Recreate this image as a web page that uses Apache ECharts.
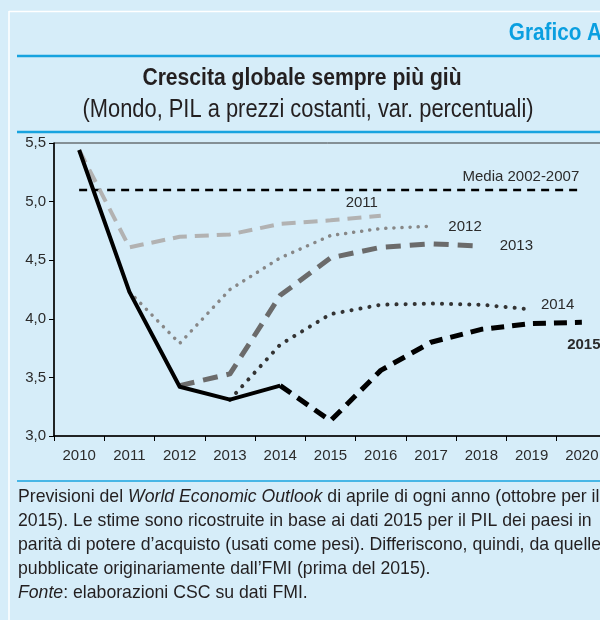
<!DOCTYPE html>
<html>
<head>
<meta charset="utf-8">
<script src="https://cdn.jsdelivr.net/npm/echarts@6/dist/echarts.min.js"></script>
<style>
  html, body { margin: 0; padding: 0; background: #d6edf9; }
  #main { width: 600px; height: 620px; }
</style>
</head>
<body>
<div id="main"></div>
<script>
// dati
const years = ['2010', '2011', '2012', '2013', '2014', '2015', '2016', '2017', '2018', '2019', '2020']
const yTicks = [3.0, 3.5, 4.0, 4.5, 5.0, 5.5]
const actual = [5.44, 4.23, 3.42, 3.31, 3.43]
const media = [5.1, 5.1, 5.1, 5.1, 5.1, 5.1, 5.1, 5.1, 5.1, 5.1, 5.1]
const weo2011 = [5.44, 4.61, 4.70, 4.72, 4.81, 4.84, 4.88]
const weo2012 = [null, 4.23, 3.79, 4.25, 4.52, 4.71, 4.77, 4.79]
const weo2013 = [null, null, 3.43, 3.53, 4.20, 4.52, 4.61, 4.64, 4.62]
const weo2014 = [null, null, null, 3.31, 3.78, 4.04, 4.12, 4.13, 4.12, 4.08]
const weo2015 = [null, null, null, null, 3.43, 3.13, 3.56, 3.80, 3.91, 3.96, 3.97]

const footnote = [
  'Previsioni del {i|World Economic Outlook} di aprile di ogni anno (ottobre per il',
  '2015). Le stime sono ricostruite in base ai dati 2015 per il PIL dei paesi in',
  'parità di potere d\u2019acquisto (usati come pesi). Differiscono, quindi, da quelle',
  'pubblicate originariamente dall\u2019FMI (prima del 2015).',
  '{i|Fonte}: elaborazioni CSC su dati FMI.'
]

// niente font condensati: Liberation Sans schiacciato in orizzontale
const sans = '"Liberation Sans", Arial, sans-serif'

const chart = echarts.init(document.getElementById('main'))

const line = (name, data, color, width, type, cap, label, offset, bold) => ({
  name: name,
  type: 'line',
  data: data,
  symbol: 'none',
  connectNulls: false,
  z: 3,
  lineStyle: { color: color, width: width, type: type, cap: cap || 'butt', join: 'round' },
  endLabel: label ? {
    show: true,
    formatter: label,
    distance: 0,
    align: 'center',
    verticalAlign: 'middle',
    offset: offset,
    color: '#2b2b2b',
    fontSize: 15,
    fontWeight: bold ? 'bold' : 'normal',
    fontFamily: sans,
  } : { show: false },
})

const graphics = [
  // cornice bianca
  { type: 'line', shape: { x1: 9, y1: 11.5, x2: 600, y2: 11.5 }, style: { stroke: '#ffffff', lineWidth: 1.5 } },
  { type: 'line', shape: { x1: 9, y1: 11, x2: 9, y2: 620 }, style: { stroke: '#ffffff', lineWidth: 1.5 } },
  // linee blu
  { type: 'line', shape: { x1: 17, y1: 56, x2: 600, y2: 56 }, style: { stroke: '#17a3df', lineWidth: 2.5 } },
  { type: 'line', shape: { x1: 17, y1: 132, x2: 600, y2: 132 }, style: { stroke: '#17a3df', lineWidth: 2.5 } },
  { type: 'line', shape: { x1: 17, y1: 481, x2: 600, y2: 481 }, style: { stroke: '#17a3df', lineWidth: 1.5 } },
  {
    type: 'text', x: 602, y: 34, scaleX: 0.9,
    style: { text: 'Grafico A', fill: '#0a9fe0', font: 'bold 23px ' + sans, textAlign: 'right', textVerticalAlign: 'middle' }
  },
  {
    type: 'text', x: 302, y: 78, scaleX: 0.88,
    style: { text: 'Crescita globale sempre più giù', fill: '#231f20', font: 'bold 24px ' + sans, textAlign: 'center', textVerticalAlign: 'middle' }
  },
  {
    type: 'text', x: 308, y: 110, scaleX: 0.875,
    style: { text: '(Mondo, PIL a prezzi costanti, var. percentuali)', fill: '#231f20', font: '25px ' + sans, textAlign: 'center', textVerticalAlign: 'middle' }
  },
]
footnote.forEach((t, i) => {
  graphics.push({
    type: 'text', x: 18, y: 497 + i * 24, scaleX: 0.93,
    style: {
      text: t,
      fill: '#231f20',
      font: '19px ' + sans,
      textVerticalAlign: 'middle',
      rich: { i: { fontStyle: 'italic', fontSize: 19, fontFamily: sans, fill: '#231f20' } }
    }
  })
})

const option = {
  animation: false,
  backgroundColor: '#d6edf9',
  grid: {
    left: 54, top: 143, height: 293, width: 553,
    outerBoundsMode: 'none',
    show: true, borderColor: '#333', borderWidth: 1, backgroundColor: 'transparent',
  },
  xAxis: {
    type: 'category',
    data: years,
    boundaryGap: true,
    axisLine: { lineStyle: { color: '#000', width: 1.5 } },
    axisTick: { show: true, length: 5, lineStyle: { color: '#000' } },
    axisLabel: { color: '#2b2b2b', fontSize: 15, fontFamily: sans, margin: 12 },
    splitLine: { show: false },
  },
  yAxis: {
    type: 'value',
    min: yTicks[0],
    max: yTicks[yTicks.length - 1],
    interval: 0.5,
    axisLine: { show: true, lineStyle: { color: '#000', width: 1.5 } },
    axisTick: { show: true, length: 5, lineStyle: { color: '#000' } },
    axisLabel: {
      color: '#2b2b2b', fontSize: 15, fontFamily: sans, margin: 8,
      formatter: (v) => v.toFixed(1).replace('.', ','),
    },
    splitLine: { show: false },
  },
  graphic: graphics,
  series: [
    line('Media 2002-2007', media, '#000', 2.5, [8, 6], 'butt', 'Media 2002-2007', [-61, -13]),
    line('2011', weo2011, '#b2b2b2', 4, [14, 8], 'butt', '2011', [-19, -13]),
    line('2012', weo2012, '#878787', 3.5, [0.1, 8], 'round', '2012', [34, 1]),
    line('2013', weo2013, '#6b6b6b', 5, [15, 9], 'butt', '2013', [35, 0]),
    line('2014', weo2014, '#333333', 4, [0.1, 9], 'round', '2014', [26, -5]),
    line('2015', weo2015, '#000', 5, [13, 8], 'butt', '2015', [2, 23], true),
    line('Consuntivo', actual, '#000', 4, 'solid', 'butt'),
  ],
}
chart.setOption(option)
</script>
</body>
</html>
